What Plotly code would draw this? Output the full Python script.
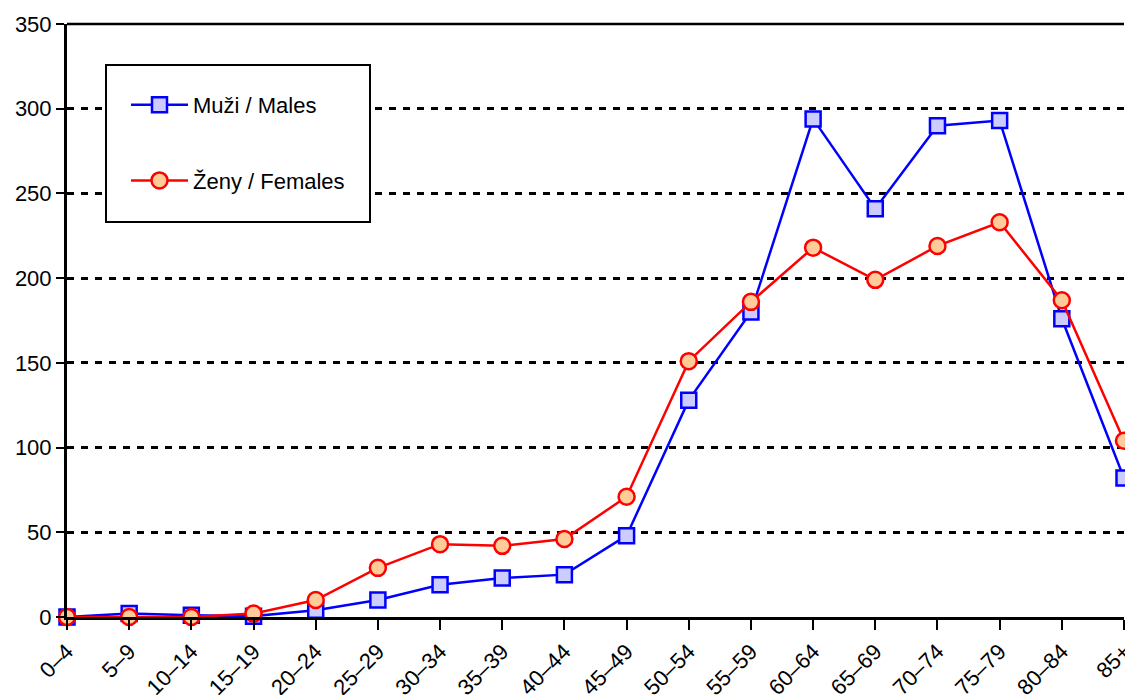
import plotly.graph_objects as go

age_groups = ["0–4", "5–9", "10–14", "15–19", "20–24", "25–29", "30–34", "35–39",
              "40–44", "45–49", "50–54", "55–59", "60–64", "65–69", "70–74",
              "75–79", "80–84", "85+"]
males = [0, 2, 1, 0.5, 4, 10, 19, 23, 25, 48, 128, 180, 294, 241, 290, 293, 176, 82]
females = [0, 0, 0, 2, 10, 29, 43, 42, 46, 71, 151, 186, 218, 199, 219, 233, 187, 104]
y_ticks = [0, 50, 100, 150, 200, 250, 300, 350]

FONT = "Liberation Sans, Arial, sans-serif"
OFF = 8  # page body margin
W, H = 1133 - 2 * OFF, 695 - OFF
L, R, T = 67 - OFF, 1, 24 - OFF
B = H - T - 593
PW, PH = W - L - R, H - T - B


def px_x(x):
    return (x - OFF - L) / PW


def px_y(y):
    return (H - B - (y - OFF)) / PH


fig = go.Figure()
fig.add_trace(go.Scatter(
    x=age_groups, y=males, name="Muži / Males", mode="lines+markers",
    line=dict(color="#0000FF", width=2.5),
    marker=dict(symbol="square", size=15, color="#CCCCFF",
                line=dict(color="#0000FF", width=2.5)),
    cliponaxis=False, legendgroup="m",
))
fig.add_trace(go.Scatter(
    x=age_groups, y=females, name="Ženy / Females", mode="lines+markers",
    line=dict(color="#FF0000", width=2.5),
    marker=dict(symbol="circle", size=16, color="#FFCC99",
                line=dict(color="#FF0000", width=2.5)),
    cliponaxis=False, legendgroup="f",
))

fig.update_layout(
    width=W, height=H,
    margin=dict(l=L, r=R, t=T, b=B, autoexpand=False),
    paper_bgcolor="white", plot_bgcolor="white",
    font=dict(family=FONT, size=22, color="black"),
    showlegend=True,
    legend=dict(x=px_x(126), y=px_y(84), xanchor="left", yanchor="top",
                bgcolor="rgba(0,0,0,0)", borderwidth=0, itemwidth=57,
                tracegroupgap=44, font=dict(size=22, family=FONT)),
    xaxis=dict(type="category", categoryorder="array", categoryarray=age_groups,
               range=[0, 17], showgrid=False, showline=True, linecolor="black",
               linewidth=3, ticks="outside", ticklen=10, tickwidth=2,
               tickcolor="black", tickangle=-45, tickfont=dict(size=22),
               zeroline=False, automargin=False),
    yaxis=dict(range=[0, 350], tickvals=y_ticks, showgrid=True,
               gridcolor="black", gridwidth=3, griddash="7px,7px",
               showline=True, linecolor="black", linewidth=3,
               ticks="outside", ticklen=8, tickwidth=2, tickcolor="black",
               tickfont=dict(size=22), zeroline=False, automargin=False),
    shapes=[
        dict(type="rect", xref="paper", yref="paper",
             x0=px_x(106), x1=px_x(370), y0=px_y(222), y1=px_y(65),
             line=dict(color="black", width=2), fillcolor="white", layer="above"),
        dict(type="line", xref="paper", yref="paper", x0=0, x1=1, y0=1, y1=1,
             line=dict(color="black", width=2.5)),
    ],
)

fig.write_html("out.html")
